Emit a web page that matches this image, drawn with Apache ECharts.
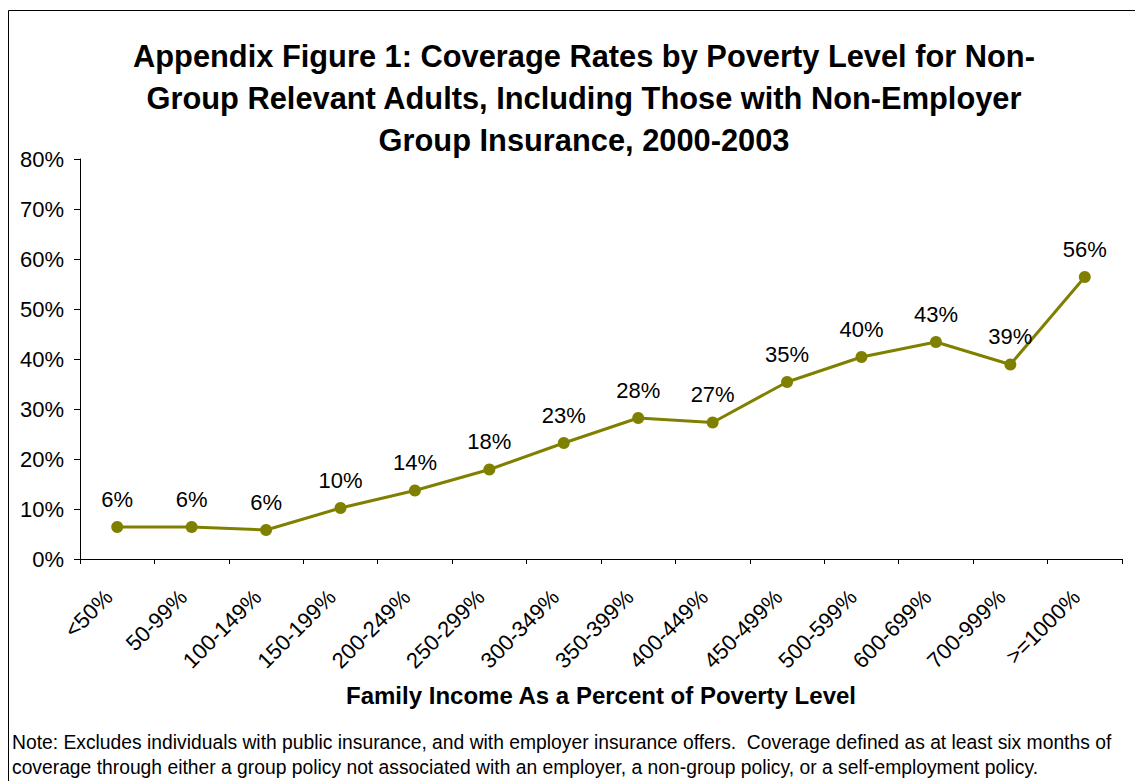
<!DOCTYPE html>
<html>
<head>
<meta charset="utf-8">
<script src="https://cdn.jsdelivr.net/npm/echarts@6/dist/echarts.min.js"></script>
<style>
html,body{margin:0;padding:0;background:#fff;}
#chart{width:1135px;height:781px;}
</style>
</head>
<body>
<div id="chart"></div>
<script>
const titleLines = [
  'Appendix Figure 1: Coverage Rates by Poverty Level for Non-',
  'Group Relevant Adults, Including Those with Non-Employer',
  'Group Insurance, 2000-2003'
];
const categories = ['<50%','50-99%','100-149%','150-199%','200-249%','250-299%','300-349%','350-399%','400-449%','450-499%','500-599%','600-699%','700-999%','>=1000%'];
const coverage = [6.4, 6.4, 5.8, 10.2, 13.7, 17.9, 23.2, 28.2, 27.3, 35.4, 40.4, 43.4, 38.9, 56.4];
const yTicks = [0, 10, 20, 30, 40, 50, 60, 70, 80];
const xAxisTitle = 'Family Income As a Percent of Poverty Level';
const noteLines = [
  'Note: Excludes individuals with public insurance, and with employer insurance offers.  Coverage defined as at least six months of',
  'coverage through either a group policy not associated with an employer, a non-group policy, or a self-employment policy.'
];

const FONT = '"Liberation Sans", Arial, Helvetica, sans-serif';
const chart = echarts.init(document.getElementById('chart'), null, {renderer: 'svg'});
chart.setOption({
  backgroundColor: '#ffffff',
  animation: false,
  textStyle: {fontFamily: FONT},
  title: {
    text: titleLines.join('\n'),
    left: 579,
    top: 30,
    textAlign: 'center',
    textStyle: {fontFamily: FONT, fontSize: 30.8, fontWeight: 'bold', color: '#000', lineHeight: 42}
  },
  graphic: [
    {type: 'rect', shape: {x: 8.5, y: 10.5, width: 1140, height: 800}, style: {fill: 'none', stroke: '#000', lineWidth: 1}, silent: true, z: -1},
    {type: 'text', left: 12, top: 730, style: {text: noteLines.join('\n'), font: '19.3px ' + FONT, fill: '#000', lineHeight: 25}}
  ],
  grid: {left: 80, right: 13, top: 159, bottom: 222, containLabel: false},
  xAxis: {
    type: 'category',
    data: categories,
    boundaryGap: true,
    name: xAxisTitle,
    nameLocation: 'middle',
    nameGap: 124,
    nameTextStyle: {fontFamily: FONT, fontSize: 24, fontWeight: 'bold', color: '#000'},
    axisLine: {lineStyle: {color: '#000', width: 1}},
    axisTick: {show: true, alignWithLabel: false, length: 5, lineStyle: {color: '#000'}},
    axisLabel: {rotate: 45, margin: 26, fontSize: 22, color: '#000', fontFamily: FONT, interval: 0, padding: [0, 12, 0, 0]}
  },
  yAxis: {
    type: 'value',
    min: 0,
    max: 80,
    interval: 10,
    axisLine: {show: true, lineStyle: {color: '#000', width: 1}},
    axisTick: {show: true, length: 6, lineStyle: {color: '#000'}},
    splitLine: {show: false},
    axisLabel: {
      margin: 16, fontSize: 22, color: '#000', fontFamily: FONT,
      formatter: v => yTicks.includes(v) ? v + '%' : ''
    }
  },
  series: [{
    type: 'line',
    data: coverage,
    symbol: 'circle',
    symbolSize: 12,
    lineStyle: {color: '#808000', width: 3},
    itemStyle: {color: '#808000'},
    label: {
      show: true, position: 'top', distance: 11,
      fontSize: 22, color: '#000', fontFamily: FONT,
      formatter: p => Math.round(p.value) + '%'
    }
  }]
});
</script>
</body>
</html>
